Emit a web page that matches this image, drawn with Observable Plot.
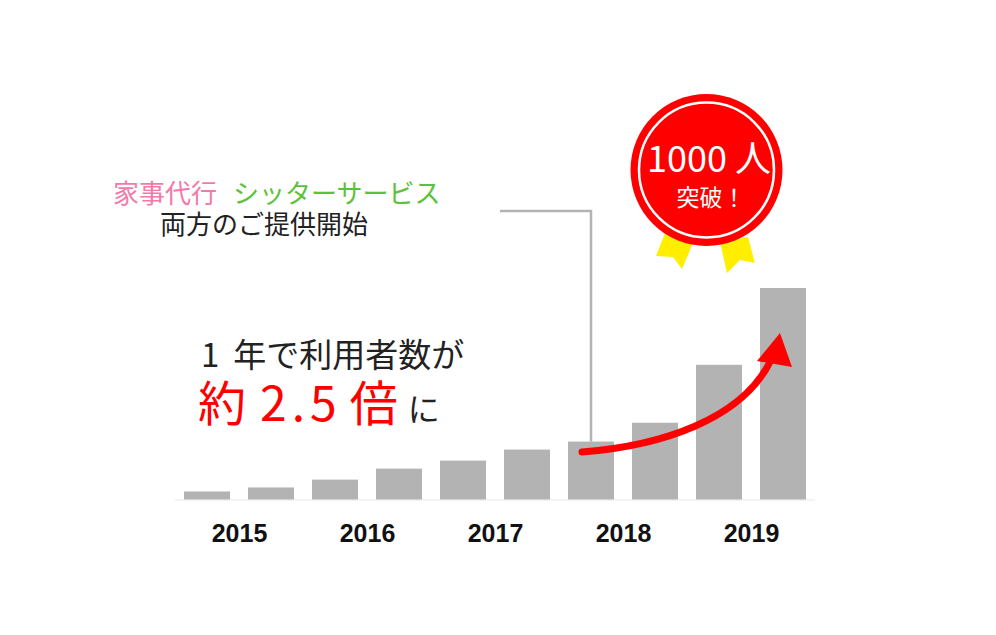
<!DOCTYPE html>
<html><head><meta charset="utf-8">
<script src="https://cdn.jsdelivr.net/npm/d3@7"></script>
<script src="https://cdn.jsdelivr.net/npm/@observablehq/plot@0.6"></script>
<style>html,body{margin:0;padding:0;background:#fff;} #chart svg{display:block}</style>
</head><body><div id="chart"></div>
<script>
// Half-year periods (two bars per year)
const periods = ["2015-H1","2015-H2","2016-H1","2016-H2","2017-H1","2017-H2","2018-H1","2018-H2","2019-H1","2019-H2"];
// Users (estimated, last bar ≈ 1000)
const users = [38, 57, 94, 146, 184, 236, 274, 363, 637, 1000];
// Year tick labels
const years = ["2015","2016","2017","2018","2019"];

const JP = '"Noto Sans CJK JP", "Noto Sans", sans-serif';
const LAT = '"Liberation Sans", Arial, sans-serif';

const table = periods.map((p, i) => ({period: p, users: users[i]}));
const yearTable = years.map((y, i) => ({year: y, period: periods[2 * i]}));

const chart = Plot.plot({
  width: 996, height: 635,
  marginLeft: 175, marginRight: 181, marginTop: 288, marginBottom: 135.5,
  x: {type: "band", domain: periods, paddingInner: 0.28, paddingOuter: 0.14, axis: null},
  y: {domain: [0, 1000], axis: null},
  style: {background: "#fff", overflow: "visible"},
  marks: [
    Plot.ruleY([0], {stroke: "#e9e9e9", strokeWidth: 1}),
    Plot.barY(table, {x: "period", y: "users", fill: "#b3b3b3"}),
    Plot.text(yearTable, {x: "period", y: 0, text: "year", dx: 32, dy: 34,
      fontSize: 25, fontWeight: "bold", fill: "#111", fontFamily: LAT})
  ]
});
document.getElementById("chart").appendChild(chart);

// Annotations positioned with the chart's scales
const svg = d3.select(chart);
const xs = chart.scale("x"), ys = chart.scale("y");
const c7 = xs.apply(periods[6]) + xs.bandwidth / 2;

// leader line
svg.append("path")
  .attr("d", `M500,211 H${c7} V${ys.apply(users[6])}`)
  .attr("fill", "none").attr("stroke", "#b3b3b3").attr("stroke-width", 2.5);

// red growth arrow
svg.append("path")
  .attr("d", "M582,452 C660,446 742,420 771,360")
  .attr("fill", "none").attr("stroke", "#ff0000").attr("stroke-width", 7).attr("stroke-linecap", "round");
svg.append("path").attr("d", "M780,333 L757,361 L792,367 Z").attr("fill", "#ff0000");

// left texts
const t1 = svg.append("text").attr("x", 113).attr("y", 203).attr("text-anchor", "start")
  .attr("font-family", JP).attr("font-size", 26);
t1.append("tspan").attr("fill", "#f27aaa").text("家事代行");
t1.append("tspan").attr("fill", "#5cc23a").attr("dx", 16).text("シッターサービス");
svg.append("text").attr("x", 160).attr("y", 234).attr("text-anchor", "start").attr("font-family", JP).attr("font-size", 26)
  .attr("fill", "#222").text("両方のご提供開始");

const t2 = svg.append("text").attr("x", 201).attr("y", 367).attr("text-anchor", "start").attr("font-family", JP).attr("font-size", 33).attr("fill", "#222");
t2.append("tspan").text("1");
t2.append("tspan").attr("dx", 14).text("年で利用者数が");

const t3 = svg.append("text").attr("x", 198).attr("y", 421).attr("text-anchor", "start").attr("font-family", JP).attr("font-size", 48).attr("fill", "#ff0000");
t3.append("tspan").text("約");
t3.append("tspan").attr("dx", 14).attr("letter-spacing", 5).text("2.5");
t3.append("tspan").attr("dx", 8).text("倍");
t3.append("tspan").attr("dx", 10).attr("fill", "#222").attr("font-size", 32).text("に");

// badge
const b = svg.append("g");
b.append("path").attr("d", "M665,233 L693,243 L682,269 L673,257 L656,256 Z").attr("fill", "#ffee00");
b.append("path").attr("d", "M720,242 L748,237 L755,263 L740,260 L727,273 Z").attr("fill", "#ffee00");
b.append("circle").attr("cx", 706.5).attr("cy", 170).attr("r", 76).attr("fill", "#ff0000");
b.append("circle").attr("cx", 706.5).attr("cy", 170).attr("r", 67.5).attr("fill", "none").attr("stroke", "#fff").attr("stroke-width", 2.5);
const bt = b.append("text").attr("x", 709).attr("y", 172).attr("text-anchor", "middle")
  .attr("font-family", JP).attr("font-size", 36).attr("fill", "#fff");
bt.append("tspan").text("1000");
bt.append("tspan").attr("dx", 8).text("人");
b.append("text").attr("x", 711).attr("y", 206).attr("text-anchor", "middle")
  .attr("font-family", JP).attr("font-size", 23).attr("fill", "#fff").text("突破！");
</script></body></html>
